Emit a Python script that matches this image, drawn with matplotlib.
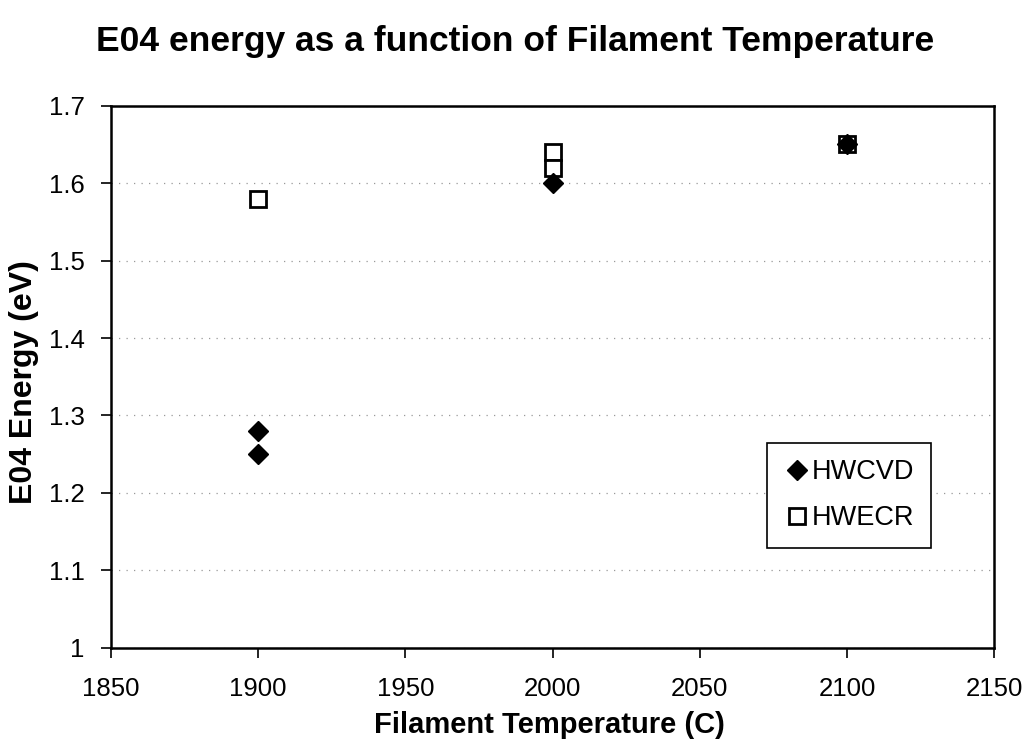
import matplotlib
matplotlib.use("Agg")
import matplotlib.pyplot as plt

plt.rcParams['font.family'] = ['Liberation Sans', 'DejaVu Sans']

# data
hwcvd_temp = [1900, 1900, 2000, 2100]
hwcvd_e04 = [1.28, 1.25, 1.60, 1.65]
hwecr_temp = [1900, 2000, 2000, 2100]
hwecr_e04 = [1.58, 1.64, 1.62, 1.65]

x_ticks = [1850, 1900, 1950, 2000, 2050, 2100, 2150]
y_ticks = [1.0, 1.1, 1.2, 1.3, 1.4, 1.5, 1.6, 1.7]
y_ticklabels = ['1', '1.1', '1.2', '1.3', '1.4', '1.5', '1.6', '1.7']

fig = plt.figure(figsize=(10.26, 7.49), dpi=100)
ax = fig.add_axes([0.108, 0.135, 0.861, 0.724])

# squares first so the diamonds sit on top where they overlap
ax.plot(hwecr_temp, hwecr_e04, linestyle='none', marker='s', markersize=11.5,
        markerfacecolor='white', markeredgecolor='black', markeredgewidth=2,
        label='HWECR', zorder=3)
ax.plot(hwcvd_temp, hwcvd_e04, linestyle='none', marker='D', markersize=10,
        color='black', label='HWCVD', zorder=4)

ax.set_xlim(1850, 2150)
ax.set_ylim(1.0, 1.7)
ax.set_xticks(x_ticks)
ax.set_yticks(y_ticks)
ax.set_yticklabels(y_ticklabels)
ax.tick_params(direction='out', length=7, width=1.2, labelsize=18.5)
ax.tick_params(axis='x', pad=14)
ax.tick_params(axis='y', pad=12)
ax.yaxis.grid(True, linestyle=(0, (1, 5)), color='#999999', linewidth=0.9)
ax.set_axisbelow(True)
for s in ax.spines.values():
    s.set_linewidth(1.8)

ax.set_xlabel('Filament Temperature (C)', fontsize=21, fontweight='bold')
ax.set_ylabel('E04 Energy (eV)', fontsize=23, fontweight='bold')
ax.xaxis.label.set_va('center')
ax.yaxis.label.set_va('center')
ax.xaxis.set_label_coords(0.497, -0.143)
ax.yaxis.set_label_coords(-0.098, 0.49)
fig.text(0.502, 0.944, 'E04 energy as a function of Filament Temperature',
         fontsize=25.5, fontweight='bold', ha='center', va='center')

handles, labels = ax.get_legend_handles_labels()
leg = ax.legend(handles[::-1], labels[::-1], loc='upper left',
                bbox_to_anchor=(0.743, 0.378), fontsize=19.5,
                frameon=True, fancybox=False, edgecolor='black', framealpha=1,
                handletextpad=0.05, handlelength=1.0, borderpad=0.6,
                labelspacing=0.75, borderaxespad=0)
leg.get_frame().set_linewidth(1.2)

fig.savefig('out.png', dpi=100)
